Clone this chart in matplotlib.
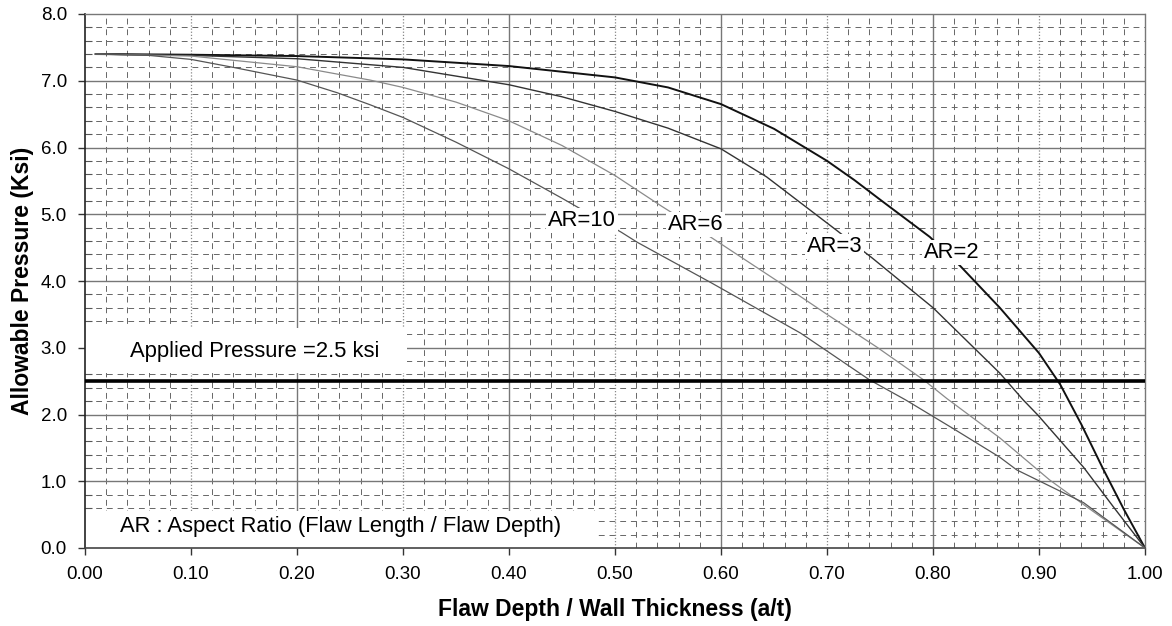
import matplotlib
matplotlib.use("Agg")
import matplotlib.pyplot as plt
from matplotlib.patches import Rectangle
import numpy as np

plt.rcParams['font.family'] = ['Liberation Sans', 'DejaVu Sans']

# ---- data ----
ar2_x = [0.01, 0.10, 0.20, 0.30, 0.40, 0.50, 0.55, 0.60, 0.65, 0.70, 0.726, 0.75, 0.797,
         0.826, 0.863, 0.90, 0.92, 0.94, 0.96, 0.98, 1.00]
ar2_p = [7.40, 7.39, 7.37, 7.32, 7.22, 7.05, 6.90, 6.65, 6.28, 5.80, 5.51, 5.22, 4.66,
         4.22, 3.60, 2.92, 2.45, 1.85, 1.20, 0.58, 0.00]

ar3_x = [0.01, 0.10, 0.20, 0.30, 0.40, 0.45, 0.50, 0.55, 0.60, 0.643, 0.709, 0.743, 0.80,
         0.863, 0.885, 0.899, 0.942, 0.97, 1.00]
ar3_p = [7.40, 7.38, 7.33, 7.20, 6.94, 6.76, 6.54, 6.29, 5.98, 5.56, 4.76, 4.34, 3.60,
         2.62, 2.22, 1.99, 1.21, 0.62, 0.00]

ar6_x = [0.01, 0.10, 0.20, 0.269, 0.30, 0.35, 0.40, 0.45, 0.50, 0.544, 0.59, 0.656, 0.70,
         0.747, 0.791, 0.813, 0.863, 0.91, 0.95, 1.00]
ar6_p = [7.40, 7.37, 7.21, 7.01, 6.90, 6.68, 6.40, 6.03, 5.58, 5.12, 4.66, 3.97, 3.50,
         3.01, 2.52, 2.24, 1.65, 1.02, 0.56, 0.00]

ar10_x = [0.01, 0.06, 0.10, 0.14, 0.20, 0.238, 0.269, 0.30, 0.35, 0.40, 0.45, 0.506, 0.521,
          0.59, 0.675, 0.74, 0.774, 0.82, 0.863, 0.879, 0.942, 1.00]
ar10_p = [7.40, 7.38, 7.32, 7.20, 7.01, 6.82, 6.64, 6.45, 6.08, 5.68, 5.24, 4.73, 4.58,
          3.98, 3.22, 2.52, 2.22, 1.78, 1.36, 1.17, 0.68, 0.00]

applied_pressure = 2.5

curve_labels = ["AR=2", "AR=3", "AR=6", "AR=10"]
x_ticks = [0.0, 0.1, 0.2, 0.3, 0.4, 0.5, 0.6, 0.7, 0.8, 0.9, 1.0]
y_ticks = [0, 1, 2, 3, 4, 5, 6, 7, 8]

# ---- figure ----
fig = plt.figure(figsize=(11.72, 6.26), dpi=100)
ax = fig.add_axes([85/1172, 78/626, 1060/1172, 534/626])
ax.set_xlim(0, 1)
ax.set_ylim(0, 8)

# grid: minor dashed
for yv in np.arange(0.2, 8.0, 0.2):
    if abs(yv - round(yv)) < 1e-6:
        continue
    ax.axhline(yv, color='#666666', lw=0.7, ls=(0, (6, 5)), zorder=1)
for xv in np.arange(0.02, 1.0, 0.02):
    if abs(xv * 10 - round(xv * 10)) < 1e-6:
        continue
    ax.axvline(xv, color='#666666', lw=0.7, ls=(0, (6, 5)), zorder=1)
# major grid
for yv in range(1, 8):
    ax.axhline(yv, color='#777777', lw=1.0, zorder=1)
for i in range(1, 10):
    xv = i / 10
    if i % 2 == 0:
        ax.axvline(xv, color='#777777', lw=1.0, zorder=1)
    else:
        ax.axvline(xv, color='#888888', lw=0.9, ls=(0, (1, 1.5)), zorder=1)

# white boxes behind annotation texts
ax.add_patch(Rectangle((0.0, 2.62), 0.304, 0.68, facecolor='white', edgecolor='none', zorder=2))
ax.add_patch(Rectangle((0.0, 0.0), 0.484, 0.56, facecolor='white', edgecolor='none', zorder=2))

# curves
ax.plot(ar2_x, ar2_p, color='#111111', lw=1.4, zorder=4)
ax.plot(ar3_x, ar3_p, color='#333333', lw=1.0, zorder=4)
ax.plot(ar6_x, ar6_p, color='#8a8a8a', lw=0.9, zorder=4)
ax.plot(ar10_x, ar10_p, color='#555555', lw=0.9, zorder=4)

# applied pressure line
ax.axhline(applied_pressure, color='black', lw=2.6, zorder=5)

# labels
lab_kw = dict(fontsize=15.8, ha='center', va='center', zorder=6,
              bbox=dict(facecolor='white', edgecolor='none', pad=1.5))
ax.text(0.818, 4.42, curve_labels[0], **lab_kw)
ax.text(0.707, 4.51, curve_labels[1], **lab_kw)
ax.text(0.576, 4.85, curve_labels[2], **lab_kw)
ax.text(0.469, 4.91, curve_labels[3], **lab_kw)

ax.text(0.042, 2.94, "Applied Pressure =2.5 ksi", fontsize=15.8, ha='left', va='center', zorder=6)
ax.text(0.033, 0.32, "AR : Aspect Ratio (Flaw Length / Flaw Depth)", fontsize=15.8,
        ha='left', va='center', zorder=6)

# axes / ticks
ax.set_xticks(x_ticks)
ax.set_xticklabels([f"{v:.2f}" for v in x_ticks])
ax.set_yticks(y_ticks)
ax.set_yticklabels([f"{v:.1f}" for v in y_ticks])
ax.set_yticks(np.arange(0, 8.01, 0.2), minor=True)
ax.tick_params(axis='both', which='major', labelsize=13.5, length=5, width=1,
               direction='out', color='#333333', pad=8)
ax.tick_params(axis='y', which='minor', length=5, width=0.8, direction='in', color='#555555')
ax.tick_params(axis='x', which='minor', length=0)

for side in ['top', 'right']:
    ax.spines[side].set_color('#777777')
    ax.spines[side].set_linestyle((0, (1, 1)))
    ax.spines[side].set_linewidth(1.0)
ax.spines['bottom'].set_color('#444444')
ax.spines['bottom'].set_linestyle((0, (1, 1)))
ax.spines['bottom'].set_linewidth(1.2)
ax.spines['left'].set_color('#222222')
ax.spines['left'].set_linewidth(1.2)

ax.set_xlabel("Flaw Depth / Wall Thickness (a/t)", fontsize=16.5, fontweight='bold', labelpad=11)
ax.set_ylabel("Allowable Pressure (Ksi)", fontsize=16.5, fontweight='bold', labelpad=5)

fig.savefig("out.png", dpi=100, facecolor='white')
